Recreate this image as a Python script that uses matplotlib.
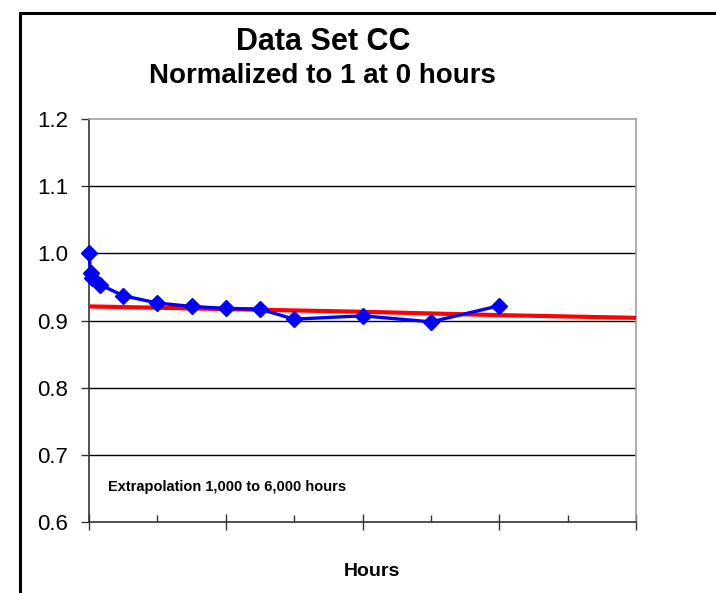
import matplotlib
matplotlib.use("Agg")
import matplotlib.pyplot as plt
from matplotlib.patches import Rectangle
from matplotlib.ticker import MultipleLocator, NullFormatter

plt.rcParams["font.family"] = ["Liberation Sans", "DejaVu Sans"]

# measured data (hours vs normalized value)
hours = [0, 24, 48, 168, 500, 1000, 1500, 2000, 2500, 3000, 4000, 5000, 6000]
normalized = [1.000, 0.970, 0.963, 0.953, 0.937, 0.926, 0.921, 0.918, 0.917,
              0.902, 0.907, 0.898, 0.922]

# extrapolation line
fit_hours = [0, 2000, 4000, 6000, 8000]
fit_values = [0.921, 0.917, 0.913, 0.908, 0.904]

y_ticks = [0.6, 0.7, 0.8, 0.9, 1.0, 1.1, 1.2]

fig = plt.figure(figsize=(7.16, 5.93), dpi=100)
ax = fig.add_axes([0.1243, 0.1197, 0.764, 0.6796])

# outer chart border (runs off right and bottom edges)
fig.patches.append(Rectangle((19.5 / 716, -0.1), 1.2, 1.1 - 13.5 / 593,
                             transform=fig.transFigure, fill=False,
                             edgecolor="black", linewidth=2.2, zorder=0))

for y in y_ticks[1:-1]:
    ax.axhline(y, color="black", linewidth=1.0, zorder=1)

ax.plot(fit_hours, fit_values, color="#FF0000", linewidth=3.0, zorder=3)
ax.plot(hours, normalized, color="#0000FF", linewidth=2.4, marker="D",
        markersize=8, markeredgecolor="#0000FF", zorder=4, clip_on=False)

ax.set_xlim(0, 8000)
ax.set_ylim(0.6, 1.2)
ax.set_yticks(y_ticks)
ax.set_yticklabels([f"{v:.1f}" for v in y_ticks], fontsize=16)
ax.xaxis.set_major_locator(MultipleLocator(2000))
ax.xaxis.set_minor_locator(MultipleLocator(1000))
ax.xaxis.set_major_formatter(NullFormatter())
ax.tick_params(axis="x", which="major", direction="inout", length=12, width=1, color="#333333")
ax.tick_params(axis="x", which="minor", direction="in", length=5, width=1, color="#333333")
ax.tick_params(axis="y", direction="out", length=6, width=1, pad=9, color="#333333")

for side in ["top", "right"]:
    ax.spines[side].set_color("#a0a0a0")
    ax.spines[side].set_linewidth(1.2)
for side in ["left", "bottom"]:
    ax.spines[side].set_color("#333333")
    ax.spines[side].set_linewidth(1.2)

fig.text(323 / 716, 1 - 42 / 593, "Data Set CC", ha="center", va="center",
         fontsize=22, fontweight="bold")
fig.text(322 / 716, 1 - 76 / 593, "Normalized to 1 at 0 hours", ha="center",
         va="center", fontsize=20, fontweight="bold")
fig.text(372 / 716, 1 - 572 / 593, "Hours", ha="center", va="center",
         fontsize=14, fontweight="bold")
ax.text(0.034, 0.086, "Extrapolation 1,000 to 6,000 hours", transform=ax.transAxes,
        ha="left", va="center", fontsize=10.5, fontweight="bold")

fig.savefig("out.png", dpi=100)
